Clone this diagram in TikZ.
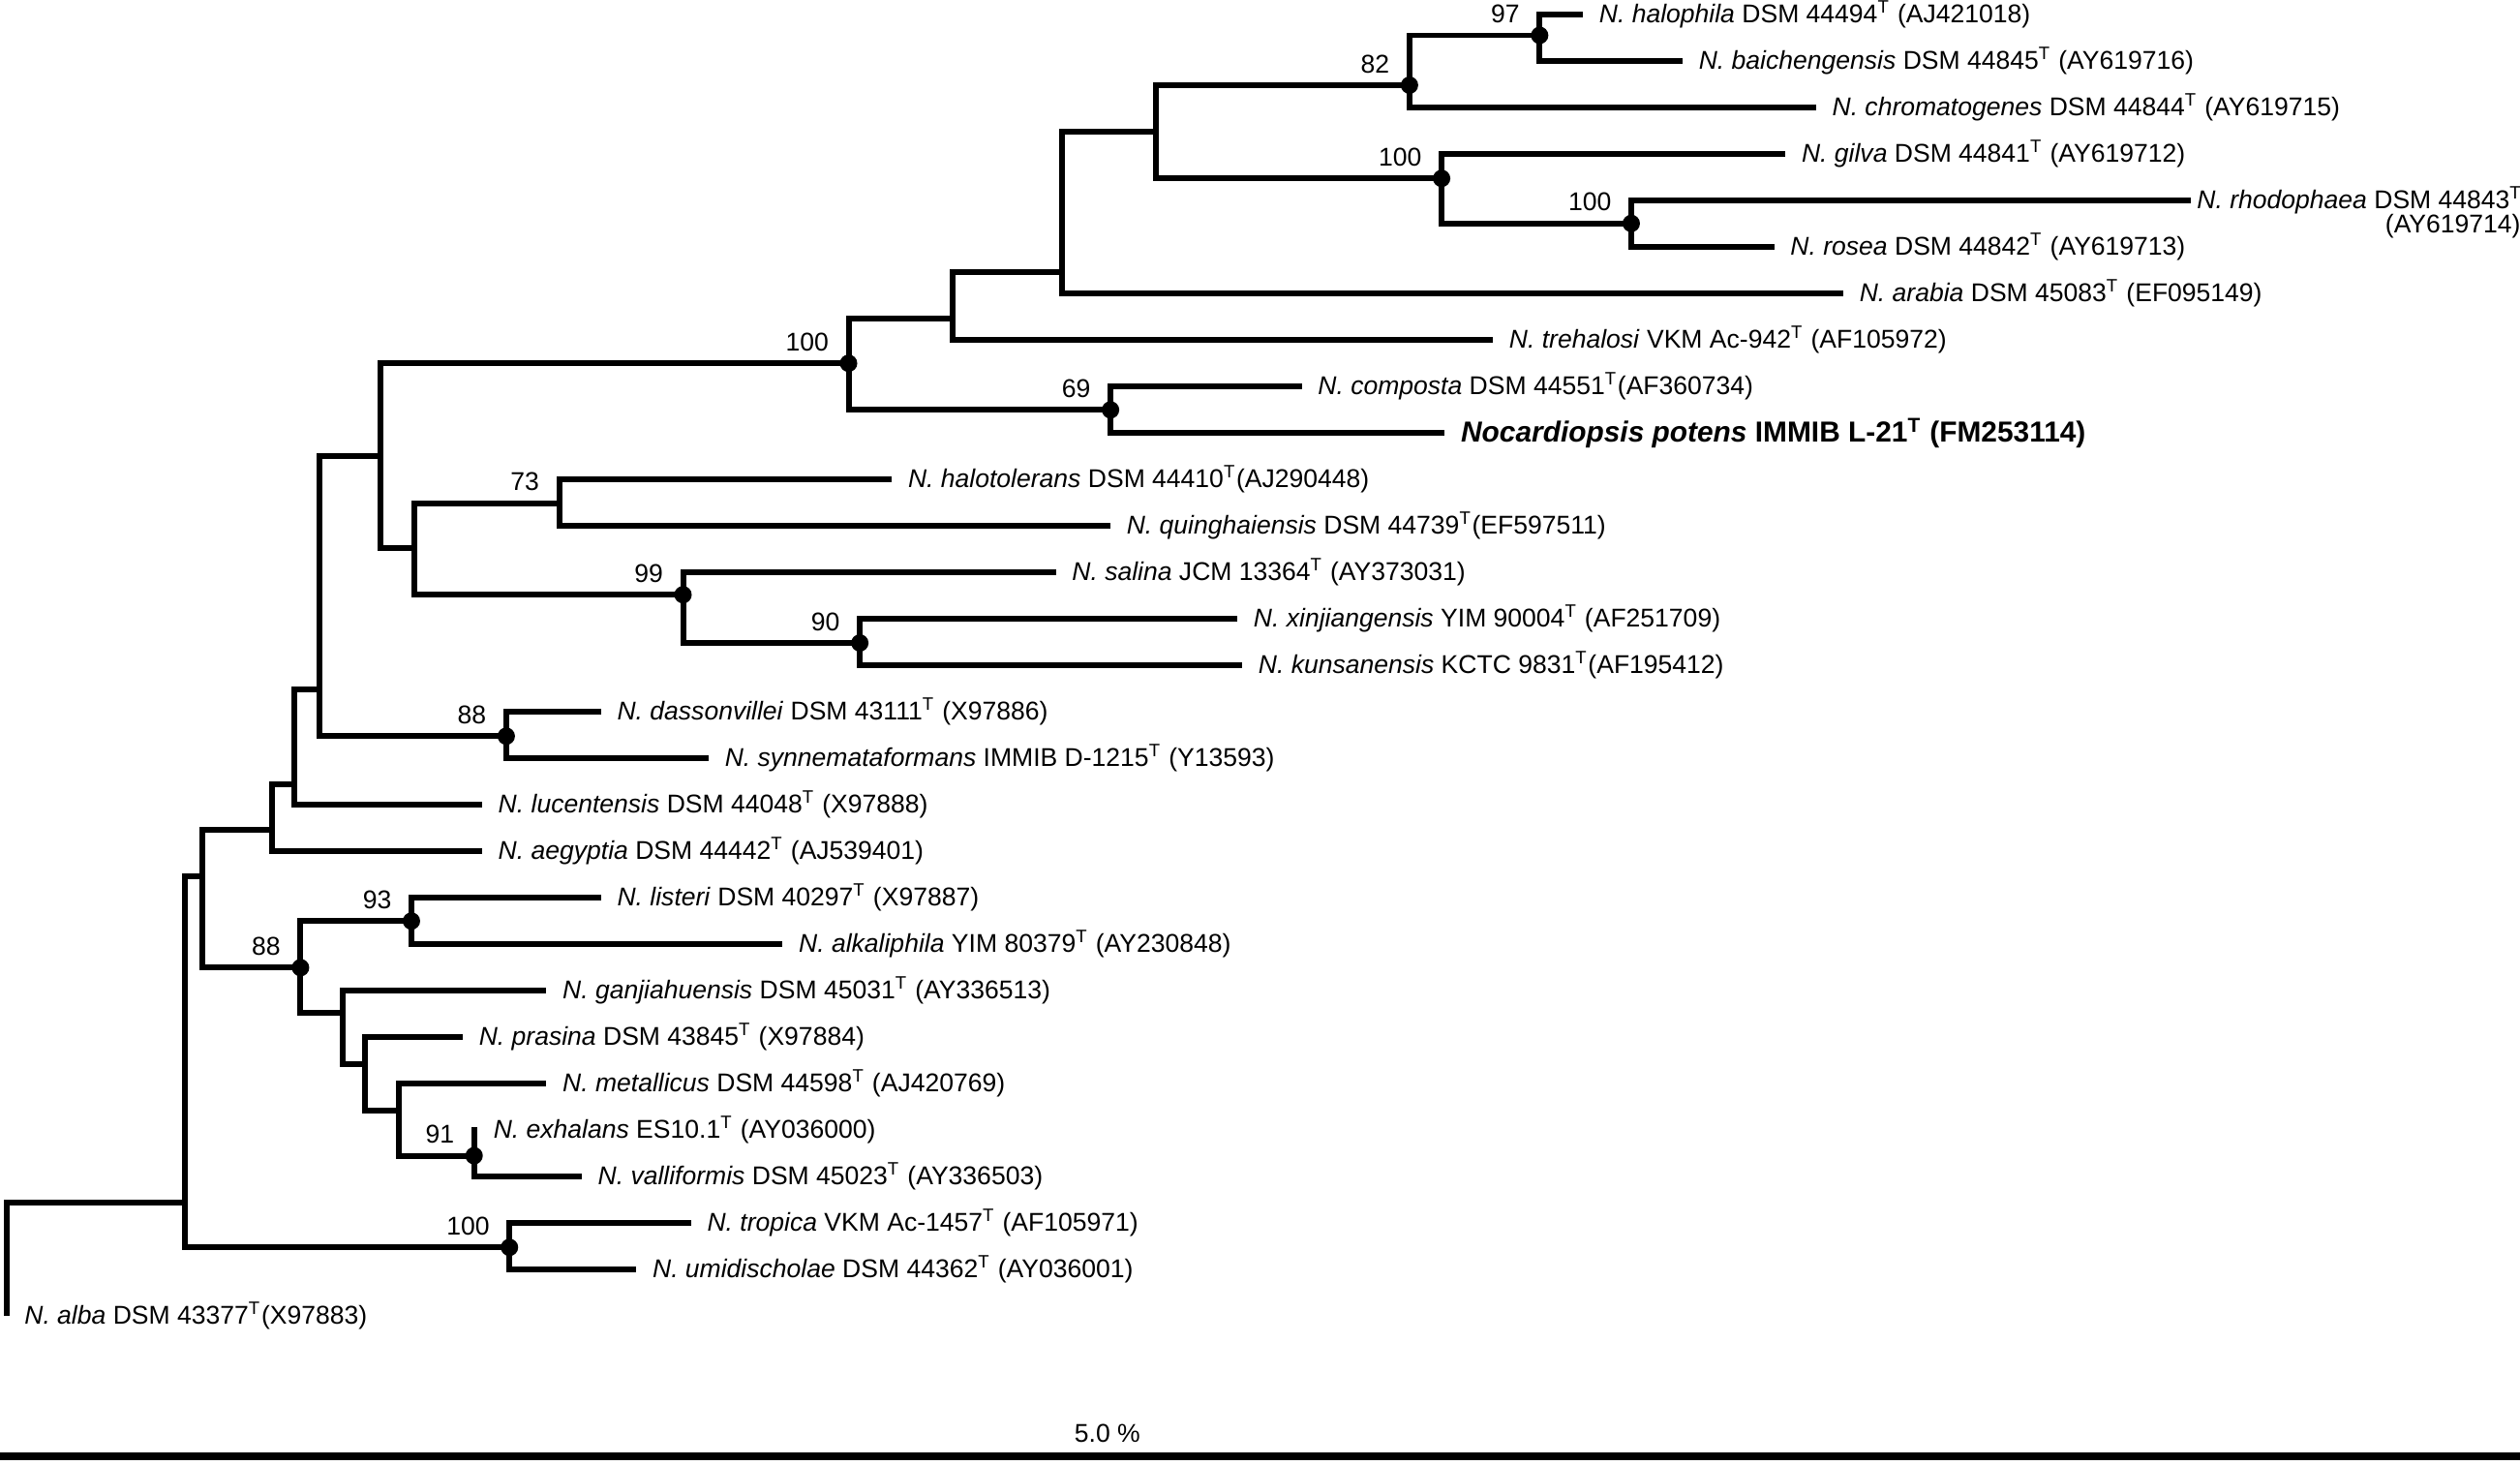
\documentclass[tikz,border=0pt]{standalone}
\usepackage{fontspec}
\setmainfont{Liberation Sans}
\newcommand{\sT}{\textsuperscript{T}}
\begin{document}
\begin{tikzpicture}[x=0.0166cm,y=-0.0166cm,
  every node/.style={font=\fontsize{7.55}{9}\selectfont},
  branch/.style={line width=1.7pt},
  leaf/.style={anchor=west,inner xsep=0.16cm,inner ysep=1pt},
  boot/.style={anchor=south east,inner sep=0pt}]
\useasboundingbox (0,0) rectangle (1568,911);
% internal nodes of the tree
\coordinate (n97) at (958,22);
\coordinate (n82) at (877,53);
\coordinate (n100b) at (1015,139);
\coordinate (n100a) at (897,111);
\coordinate (t1) at (719,82);
\coordinate (t2) at (661,169);
\coordinate (t3) at (593,198);
\coordinate (n69) at (691,255);
\coordinate (n100c) at (528,226);
\coordinate (n73) at (348,313);
\coordinate (n90) at (535,400);
\coordinate (n99) at (425,370);
\coordinate (tG) at (258,341);
\coordinate (tA) at (237,284);
\coordinate (n88a) at (315,458);
\coordinate (tB) at (199,429);
\coordinate (tC) at (183,488);
\coordinate (tD) at (169,516);
\coordinate (n93) at (256,573);
\coordinate (n91) at (295,719);
\coordinate (tJ) at (248,691);
\coordinate (tI) at (227,662);
\coordinate (tH) at (213,630);
\coordinate (n88b) at (187,602);
\coordinate (tE) at (126,545);
\coordinate (n100d) at (317,776);
\coordinate (root) at (115,748);
% species labels, one row each
\foreach \i/\x/\nm/\txt in {1/985/halophila/{DSM 44494\sT{} (AJ421018)},
  2/1047/baichengensis/{DSM 44845\sT{} (AY619716)},
  3/1130/chromatogenes/{DSM 44844\sT{} (AY619715)},
  4/1111/gilva/{DSM 44841\sT{} (AY619712)},
  6/1104/rosea/{DSM 44842\sT{} (AY619713)},
  7/1147/arabia/{DSM 45083\sT{} (EF095149)},
  8/929/trehalosi/{VKM Ac-942\sT{} (AF105972)},
  9/810/composta/{DSM 44551\sT(AF360734)},
  11/555/halotolerans/{DSM 44410\sT(AJ290448)},
  12/691/quinghaiensis/{DSM 44739\sT(EF597511)},
  13/657/salina/{JCM 13364\sT{} (AY373031)},
  14/770/xinjiangensis/{YIM 90004\sT{} (AF251709)},
  15/773/kunsanensis/{KCTC 9831\sT(AF195412)},
  16/374/dassonvillei/{DSM 43111\sT{} (X97886)},
  17/441/synnemataformans/{IMMIB D-1215\sT{} (Y13593)},
  18/300/lucentensis/{DSM 44048\sT{} (X97888)},
  19/300/aegyptia/{DSM 44442\sT{} (AJ539401)},
  20/374/listeri/{DSM 40297\sT{} (X97887)},
  21/487/alkaliphila/{YIM 80379\sT{} (AY230848)},
  22/340/ganjiahuensis/{DSM 45031\sT{} (AY336513)},
  23/288/prasina/{DSM 43845\sT{} (X97884)},
  24/340/metallicus/{DSM 44598\sT{} (AJ420769)},
  25/297/exhalans/{ES10.1\sT{} (AY036000)},
  26/362/valliformis/{DSM 45023\sT{} (AY336503)},
  27/430/tropica/{VKM Ac-1457\sT{} (AF105971)},
  28/396/umidischolae/{DSM 44362\sT{} (AY036001)}}
  \node[leaf] (\nm) at (\x,{9+(\i-1)*28.92}) {\textit{N. \nm} \txt};
\node[leaf,inner xsep=0.06cm] (rhodophaea) at (1363,124.7) {\textit{N. rhodophaea} DSM 44843\sT};
\node[anchor=north east,inner sep=0pt] (rhodophaeaacc) at ([xshift=-0.08cm,yshift=0.05cm]rhodophaea.south east) {(AY619714)};
\node[leaf,font=\fontsize{8.5}{10}\selectfont\bfseries] (potens) at (899,269.3) {\textit{Nocardiopsis potens} IMMIB L-21\sT{} (FM253114)};
\node[leaf,inner xsep=0.18cm] (alba) at (4,818.8) {\textit{N. alba} DSM 43377\sT(X97883)};
% branches
\foreach \a/\b in {n82/n97,t1/n82,t1/n100a,n100a/n100b,t2/t1,t3/t2,n100c/t3,n100c/n69,
  tA/n100c,tA/tG,tG/n73,tG/n99,n99/n90,tB/tA,tB/n88a,tC/tB,tD/tC,tE/tD,tE/n88b,
  n88b/n93,n88b/tH,tH/tI,tI/tJ,tJ/n91,root/tE,root/n100d}
  \draw[branch] (\a) |- (\b);
\foreach \a/\b in {n97/halophila,n97/baichengensis,n82/chromatogenes,n100a/gilva,
  n100b/rhodophaea,n100b/rosea,t2/arabia,t3/trehalosi,n69/composta,n69/potens,
  n73/halotolerans,n73/quinghaiensis,n99/salina,n90/xinjiangensis,n90/kunsanensis,
  n88a/dassonvillei,n88a/synnemataformans,tC/lucentensis,tD/aegyptia,n93/listeri,
  n93/alkaliphila,tH/ganjiahuensis,tI/prasina,tJ/metallicus,n91/exhalans,
  n91/valliformis,n100d/tropica,n100d/umidischolae}
  \draw[branch] (\a) |- (\b.west);
\draw[branch] (root) -| (alba.west);
% bootstrap values
\foreach \n/\v in {n97/97,n82/82,n100a/100,n100b/100,n100c/100,n69/69,n73/73,n99/99,
  n90/90,n88a/88,n93/93,n88b/88,n91/91,n100d/100}
  \node[boot] (b\n) at ([xshift=-0.2cm,yshift=0.12cm]\n) {\v};
\foreach \n in {n97,n82,n100a,n100b,n100c,n69,n99,n90,n88a,n93,n88b,n91,n100d}
  \fill (\n) circle[radius=0.09cm];
% scale bar
\coordinate (bar0) at (0,906);
\coordinate (bar1) at (1568,906);
\draw[line width=2.4pt] (bar0) -- (bar1);
\node (barlab) at (689,892) {5.0 \%};
\end{tikzpicture}
\end{document}
